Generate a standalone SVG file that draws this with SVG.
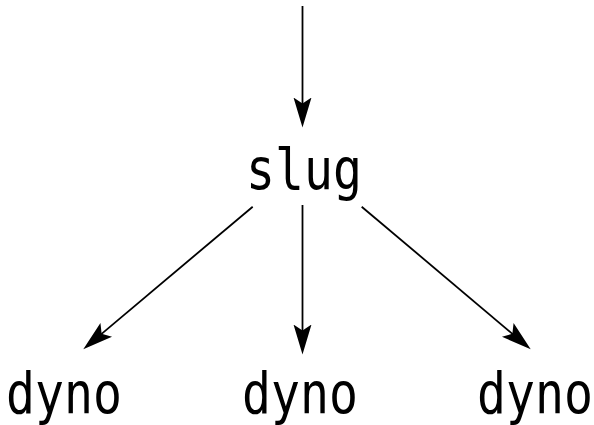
<svg xmlns="http://www.w3.org/2000/svg" width="594" height="425" viewBox="0 0 594 425">
<style>
.lbl{font-family:"DejaVu Sans Mono","Liberation Mono",monospace;font-size:57px;fill:#000;text-anchor:middle}
.edge{stroke:#000;stroke-width:1.8;fill:none;marker-end:url(#ah)}
</style>
<defs>
<marker id="ah" markerUnits="userSpaceOnUse" markerWidth="32" markerHeight="20" viewBox="0 -10 32 20" refX="8" refY="0" orient="auto">
<path d="M30,0 L0,-9 L6,0 L0,9 Z" fill="#000"/>
</marker>
</defs>
<rect width="594" height="425" fill="#fff"/>
<g id="edges">
<path class="edge" d="M302.5,6 L302.5,105.5"/>
<path class="edge" d="M302.5,205 L302.5,332.5"/>
<path class="edge" d="M252.7,206.7 L100.1,335.1"/>
<path class="edge" d="M361.7,206.7 L513.9,335.1"/>
</g>
<g id="slug"><text class="lbl" x="304" y="188.5" textLength="116" lengthAdjust="spacingAndGlyphs">slug</text></g>
<g id="dyno1"><text class="lbl" x="64" y="412.5" textLength="116" lengthAdjust="spacingAndGlyphs">dyno</text></g>
<g id="dyno2"><text class="lbl" x="300" y="412.5" textLength="116" lengthAdjust="spacingAndGlyphs">dyno</text></g>
<g id="dyno3"><text class="lbl" x="535" y="412.5" textLength="116" lengthAdjust="spacingAndGlyphs">dyno</text></g>
</svg>
